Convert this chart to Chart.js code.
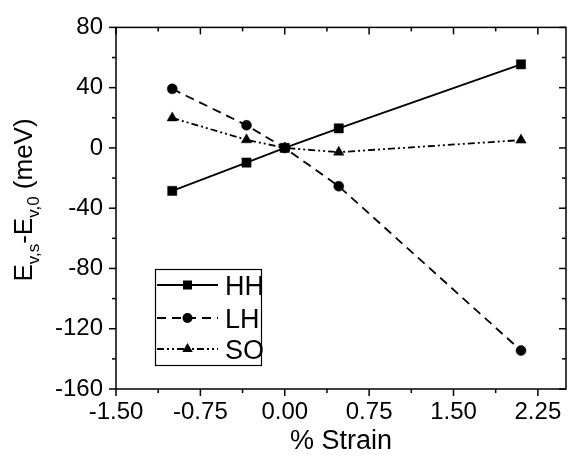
<!DOCTYPE html>
<html>
<head>
<meta charset="utf-8">
<script src="https://cdn.jsdelivr.net/npm/chart.js@4.4.1/dist/chart.umd.min.js"></script>
<style>
  html, body { margin: 0; padding: 0; background: #fff; }
  canvas { display: block; }
</style>
</head>
<body>
<canvas id="strain-chart" width="573" height="464"></canvas>
<script>
// Strain (%) and valence band edge shifts (meV)
const strain = [-1.0, -0.34, 0, 0.48, 2.1];
const hhShift = [-28.5, -9.7, 0, 13.0, 55.5];
const lhShift = [39.2, 15.0, 0, -25.4, -134.5];
const soShift = [19.9, 5.4, 0, -2.8, 5.2];

const xTicks = [-1.5, -0.75, 0, 0.75, 1.5, 2.25];
const yTicks = [-160, -120, -80, -40, 0, 40, 80];

const FONT = "'Liberation Sans', Arial, sans-serif";

function toPoints(values) {
    return strain.map((x, i) => ({ x: x, y: values[i] }));
}

// Draws the little marker shapes used in the key
function drawMarker(ctx, style, x, y) {
    ctx.beginPath();
    if (style === 'rect') {
        ctx.rect(x - 4.5, y - 4.5, 9, 9);
    } else if (style === 'circle') {
        ctx.arc(x, y, 5, 0, Math.PI * 2);
    } else if (style === 'triangle') {
        const r = 6;
        ctx.moveTo(x, y - r);
        ctx.lineTo(x + r * Math.sin(Math.PI * 2 / 3), y - r * Math.cos(Math.PI * 2 / 3));
        ctx.lineTo(x + r * Math.sin(Math.PI * 4 / 3), y - r * Math.cos(Math.PI * 4 / 3));
        ctx.closePath();
    }
    ctx.fill();
}

// Y axis title with subscripts, drawn rotated
function drawYTitle(ctx, cx, cy) {
    const parts = [
        { text: 'E', size: 26, dy: 0 },
        { text: 'v,s', size: 17, dy: 7 },
        { text: '-E', size: 26, dy: 0 },
        { text: 'v,0', size: 17, dy: 7 },
        { text: ' (meV)', size: 26, dy: 0 },
    ];
    ctx.save();
    ctx.translate(cx, cy);
    ctx.rotate(-Math.PI / 2);
    ctx.textBaseline = 'alphabetic';
    ctx.textAlign = 'left';
    let total = 0;
    parts.forEach(p => {
        ctx.font = p.size + 'px ' + FONT;
        p.w = ctx.measureText(p.text).width;
        total += p.w;
    });
    let pos = -total / 2;
    parts.forEach(p => {
        ctx.font = p.size + 'px ' + FONT;
        ctx.fillText(p.text, pos, p.dy);
        pos += p.w;
    });
    ctx.restore();
}

const framePlugin = {
    id: 'frame',
    afterDraw(chart) {
        const ctx = chart.ctx;
        const a = chart.chartArea;
        const xs = chart.scales.x;
        const ys = chart.scales.y;

        ctx.save();
        ctx.strokeStyle = '#000';
        ctx.fillStyle = '#000';
        ctx.lineWidth = 1.5;
        ctx.setLineDash([]);
        ctx.strokeRect(a.left, a.top, a.right - a.left, a.bottom - a.top);

        // tick marks: outside on bottom/left, inside on top/right
        const tick = (x1, y1, x2, y2) => {
            ctx.beginPath();
            ctx.moveTo(x1, y1);
            ctx.lineTo(x2, y2);
            ctx.stroke();
        };
        xTicks.forEach(v => {
            const px = xs.getPixelForValue(v);
            tick(px, a.bottom, px, a.bottom + 7);
            tick(px, a.top, px, a.top + 7);
            const m = v + 0.375;
            if (m < xs.max) {
                const pm = xs.getPixelForValue(m);
                tick(pm, a.bottom, pm, a.bottom + 4);
                tick(pm, a.top, pm, a.top + 4);
            }
        });
        yTicks.forEach(v => {
            const py = ys.getPixelForValue(v);
            tick(a.left, py, a.left - 7, py);
            tick(a.right, py, a.right - 7, py);
            const m = v + 20;
            if (m < ys.max) {
                const pm = ys.getPixelForValue(m);
                tick(a.left, pm, a.left - 4, pm);
                tick(a.right, pm, a.right - 4, pm);
            }
        });

        // key
        ctx.lineWidth = 1.2;
        ctx.strokeRect(155.5, 269.5, 106, 96);
        ctx.font = '27px ' + FONT;
        ctx.textBaseline = 'alphabetic';
        ctx.textAlign = 'left';
        const rows = [295, 328, 359];
        chart.data.datasets.forEach((ds, i) => {
            const ly = rows[i] - 10;
            ctx.lineWidth = ds.borderWidth;
            ctx.setLineDash(ds.borderDash || []);
            tick(157, ly, 218, ly);
            ctx.setLineDash([]);
            drawMarker(ctx, ds.pointStyle, 187.5, ly);
            ctx.fillText(ds.label, 225, rows[i]);
        });

        // axis titles
        ctx.font = '27px ' + FONT;
        ctx.textAlign = 'center';
        ctx.fillText('% Strain', (a.left + a.right) / 2, 449);
        drawYTitle(ctx, 32, 200);
        ctx.restore();
    }
};

const ctx = document.getElementById('strain-chart').getContext('2d');

new Chart(ctx, {
    type: 'line',
    data: {
        datasets: [
            {
                label: 'HH',
                data: toPoints(hhShift),
                pointStyle: 'rect',
                pointRadius: 6.5,
                borderDash: [],
            },
            {
                label: 'LH',
                data: toPoints(lhShift),
                pointStyle: 'circle',
                pointRadius: 5,
                borderDash: [9, 6],
            },
            {
                label: 'SO',
                data: toPoints(soShift),
                pointStyle: 'triangle',
                pointRadius: 6,
                borderDash: [7, 3, 2, 3, 2, 3],
            },
        ].map(ds => Object.assign({
            borderColor: '#000',
            backgroundColor: '#000',
            pointBackgroundColor: '#000',
            pointBorderColor: '#000',
            pointBorderWidth: 0.5,
            borderWidth: 1.8,
            tension: 0,
            fill: false,
        }, ds)),
    },
    options: {
        responsive: false,
        animation: false,
        devicePixelRatio: 1,
        layout: { padding: { top: 16, right: -1, bottom: 0, left: 0 } },
        plugins: {
            legend: { display: false },
            tooltip: { enabled: false },
        },
        scales: {
            x: {
                type: 'linear',
                min: -1.5,
                max: 2.5,
                afterBuildTicks: scale => { scale.ticks = xTicks.map(v => ({ value: v })); },
                afterFit: scale => { scale.height = 75; },
                grid: { display: false, drawTicks: false },
                border: { display: false },
                ticks: {
                    color: '#000',
                    font: { family: FONT, size: 24 },
                    padding: 9,
                    maxRotation: 0,
                    callback: v => v.toFixed(2),
                },
            },
            y: {
                type: 'linear',
                min: -160,
                max: 80,
                afterBuildTicks: scale => { scale.ticks = yTicks.map(v => ({ value: v })); },
                afterFit: scale => { scale.width = 116; },
                grid: { display: false, drawTicks: false },
                border: { display: false },
                ticks: {
                    color: '#000',
                    font: { family: FONT, size: 24 },
                    padding: 13,
                    callback: v => String(v),
                },
            },
        },
    },
    plugins: [framePlugin],
});
</script>
</body>
</html>
